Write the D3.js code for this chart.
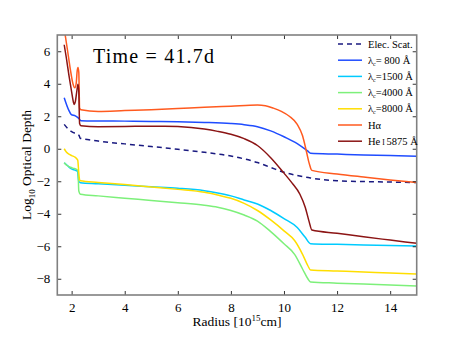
<!DOCTYPE html>
<html><head><meta charset="utf-8">
<script src="https://cdn.jsdelivr.net/npm/d3@7"></script>
<style>body{margin:0;background:#fff}svg{display:block}text{font-family:"Liberation Serif","DejaVu Serif",serif}</style>
</head><body>
<script>
// ---- data ----
const xTicks = [2,4,6,8,10,12,14];
const yTicks = [-8,-6,-4,-2,0,2,4,6];
const titleText = "Time = 41.7d";

const elecR   = [1.72,1.85,2.0,2.2,2.28,2.32,2.7,3,4,5,6,7,8,9,9.5,10,10.5,11,11.5,12,13,14,15];
const elecTau = [1.5,1.25,1.05,0.9,0.82,0.65,0.54,0.47,0.3,0.14,-0.03,-0.22,-0.45,-0.85,-1.15,-1.45,-1.65,-1.8,-1.9,-1.97,-2.02,-2.05,-2.08];

const l800R   = [1.72,1.89,1.98,2.14,2.27,2.35,3,4,5,6,7,8,8.5,9,9.5,10,10.5,10.9,11.0,12,13,14,15];
const l800Tau = [3.14,2.38,2.12,2.02,1.87,1.73,1.71,1.70,1.68,1.66,1.62,1.55,1.48,1.36,1.1,0.74,0.32,-0.15,-0.28,-0.33,-0.38,-0.42,-0.46];

const l1500R   = [1.72,1.85,1.95,2.1,2.22,2.27,2.33,3,4,5,6,7,7.5,8,8.5,9,9.5,10,10.5,10.8,11.0,12,13,14,15];
const l1500Tau = [-0.86,-1.05,-1.2,-1.3,-1.38,-2.0,-2.09,-2.15,-2.25,-2.34,-2.43,-2.58,-2.72,-2.9,-3.15,-3.4,-3.8,-4.3,-4.85,-5.45,-5.84,-5.88,-5.92,-5.95,-5.98];

const l4000R   = [1.72,1.8,1.95,2.1,2.2,2.24,2.27,2.33,3,4,5,6,7,7.5,8,8.5,9,9.5,10,10.4,10.7,10.9,11.0,12,13,14,15];
const l4000Tau = [-0.86,-1.0,-1.14,-1.22,-1.28,-1.4,-2.6,-2.8,-2.9,-3.04,-3.18,-3.32,-3.48,-3.6,-3.8,-4.08,-4.45,-5.1,-5.85,-6.5,-7.4,-8.0,-8.2,-8.27,-8.33,-8.39,-8.45];

const l8000R   = [1.72,1.8,1.9,2.0,2.14,2.23,2.27,2.3,2.33,3,4,5,6,7,7.5,8,8.5,9,9.5,10,10.4,10.7,10.9,11.0,12,13,14,15];
const l8000Tau = [0.0,-0.2,-0.33,-0.42,-0.53,-0.7,-1.5,-1.9,-1.97,-2.07,-2.2,-2.35,-2.5,-2.68,-2.85,-3.05,-3.36,-3.8,-4.38,-5.05,-5.65,-6.5,-7.2,-7.46,-7.52,-7.58,-7.65,-7.71];

const haR   = [1.72,1.85,1.95,2.05,2.12,2.17,2.21,2.24,2.27,2.3,2.35,3,4,5,6,7,8,9,9.3,9.6,9.9,10.2,10.5,10.7,10.85,10.95,11.05,12,13,14,15];
const haTau = [7.4,6.0,4.9,4.0,3.75,4.0,4.8,5.0,4.7,2.5,2.4,2.3,2.35,2.4,2.47,2.55,2.62,2.69,2.65,2.5,2.3,2.0,1.5,0.8,-0.2,-0.9,-1.33,-1.55,-1.74,-1.92,-2.07];

const heR   = [1.72,1.8,1.9,2.0,2.07,2.1,2.14,2.2,2.24,2.27,2.3,2.35,3,4,5,5.5,6,6.5,7,7.5,8,8.5,9,9.5,10,10.3,10.6,10.8,10.95,11.05,12,13,14,15];
const heTau = [6.4,5.6,4.5,3.5,2.85,2.73,2.9,3.6,3.97,3.5,1.55,1.42,1.36,1.37,1.39,1.39,1.37,1.31,1.21,1.07,0.89,0.62,0.2,-0.55,-1.5,-2.1,-2.8,-3.6,-4.5,-5.0,-5.2,-5.42,-5.62,-5.82];

const seriesNames = ["Elec. Scat.","λc= 800 Å","λc=1500 Å","λc=4000 Å","λc=8000 Å","Hα","He I 5875 Å"];
const seriesColors = ["#1a1a80","#1f4cff","#00cbff","#7df07a","#ffde00","#ff5a1f","#8b1414"];

// ---- chart ----
const W = 463, H = 348;
const m = {l:57.3, r:416.7, t:35, b:295};
const svg = d3.select("body").append("svg").attr("width",W).attr("height",H);
svg.append("rect").attr("width",W).attr("height",H).attr("fill","#fff");

const x = d3.scaleLinear().domain([1.46,15]).range([m.l,m.r]);
const y = d3.scaleLinear().domain([-9,7]).range([m.b,m.t]);

svg.append("clipPath").attr("id","clip").append("rect")
  .attr("x",m.l).attr("y",m.t).attr("width",m.r-m.l).attr("height",m.b-m.t);

const series = [
  [elecR,elecTau],[l800R,l800Tau],[l1500R,l1500Tau],[l4000R,l4000Tau],[l8000R,l8000Tau],[haR,haTau],[heR,heTau]
];
const line = d3.line().x(d=>x(d[0])).y(d=>y(d[1])).curve(d3.curveMonotoneX);
const g = svg.append("g").attr("clip-path","url(#clip)");
series.forEach((s,i)=>{
  const pts = s[0].map((r,j)=>[r,s[1][j]]);
  g.append("path").datum(pts).attr("d",line).attr("fill","none")
    .attr("stroke",seriesColors[i]).attr("stroke-width",1.5)
    .attr("stroke-dasharray", i===0 ? "5,4" : null);
});

// axes (ticks inward on all sides)
const fmt = d => d < 0 ? "\u2212"+Math.abs(d) : String(d);
const axB = svg.append("g").attr("transform",`translate(0,${m.b})`)
  .call(d3.axisBottom(x).tickValues(xTicks).tickSize(-4).tickPadding(8).tickFormat(fmt));
const axT = svg.append("g").attr("transform",`translate(0,${m.t})`)
  .call(d3.axisTop(x).tickValues(xTicks).tickSize(-4).tickFormat(""));
const axL = svg.append("g").attr("transform",`translate(${m.l},0)`)
  .call(d3.axisLeft(y).tickValues(yTicks).tickSize(-4).tickPadding(7).tickFormat(fmt));
const axR = svg.append("g").attr("transform",`translate(${m.r},0)`)
  .call(d3.axisRight(y).tickValues(yTicks).tickSize(-4).tickFormat(""));
[axB,axT,axL,axR].forEach(a=>{
  a.select(".domain").remove();
  a.selectAll(".tick line").attr("stroke","#000").attr("stroke-width",0.8);
  a.selectAll("text").attr("font-family","'Liberation Serif',serif").attr("font-size",13).attr("fill","#000");
});
svg.append("rect").attr("x",m.l).attr("y",m.t).attr("width",m.r-m.l).attr("height",m.b-m.t)
  .attr("fill","none").attr("stroke","#808080").attr("stroke-width",1.6);

// labels
svg.append("text").attr("x",(m.l+m.r)/2).attr("y",326).attr("text-anchor","middle")
  .attr("font-size",13.5)
  .call(t=>{t.append("tspan").text("Radius [10");
            t.append("tspan").attr("dy",-5).attr("font-size",9).text("15");
            t.append("tspan").attr("dy",5).text("cm]");});
svg.append("text").attr("transform","translate(31,165) rotate(-90)").attr("text-anchor","middle")
  .attr("font-size",13.5)
  .call(t=>{t.append("tspan").text("Log");
            t.append("tspan").attr("dy",4).attr("font-size",9).text("10");
            t.append("tspan").attr("dy",-4).text(" Optical Depth");});

svg.append("text").attr("x",93).attr("y",63).attr("font-size",20)
  .attr("textLength",121).attr("lengthAdjust","spacing").text(titleText);

// legend
const lg = svg.append("g");
seriesNames.forEach((name,i)=>{
  const yy = 44 + i*16.2;
  lg.append("line").attr("x1",338).attr("x2",362).attr("y1",yy).attr("y2",yy)
    .attr("stroke",seriesColors[i]).attr("stroke-width",1.5)
    .attr("stroke-dasharray", i===0 ? "5,4" : null);
  const t = lg.append("text").attr("x",368).attr("y",yy+3.5).attr("font-size",10.5);
  if (name.startsWith("λc")) {
    t.append("tspan").text("λ");
    t.append("tspan").attr("dy",2).attr("font-size",6).text("c");
    t.append("tspan").attr("dy",-2).text(name.slice(2));
  } else if (name.startsWith("He I")) {
    t.append("tspan").text("He");
    t.append("tspan").attr("font-size",7.5).text(" I ");
    t.append("tspan").text(name.slice(5));
  } else {
    t.text(name);
  }
});
</script>
</body></html>
